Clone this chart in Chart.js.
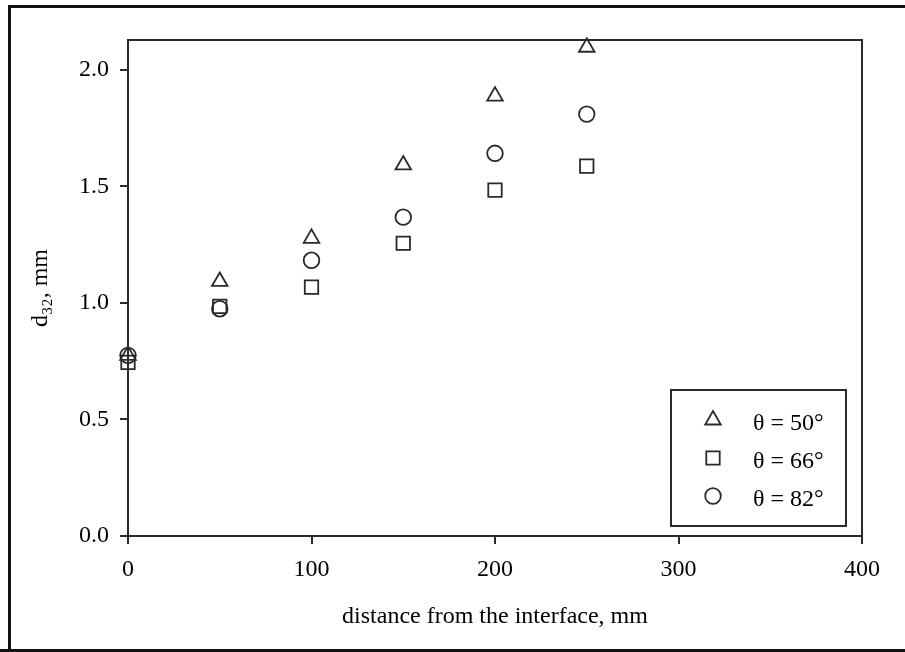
<!DOCTYPE html>
<html><head><meta charset="utf-8">
<script src="https://cdn.jsdelivr.net/npm/chart.js@4.4.0/dist/chart.umd.min.js"></script>
<style>html,body{margin:0;padding:0;background:#fff;} #c{display:block;}</style>
</head><body>
<canvas id="c" width="905" height="652"></canvas>
<script>
const distances = [0, 50, 100, 150, 200, 250];
const theta50 = [0.775, 1.092, 1.277, 1.592, 1.887, 2.097];
const theta66 = [0.745, 0.985, 1.068, 1.256, 1.484, 1.587];
const theta82 = [0.775, 0.975, 1.183, 1.368, 1.642, 1.81];
const seriesLabels = ['θ = 50°', 'θ = 66°', 'θ = 82°'];
const seriesStyles = ['triangle', 'rect', 'circle'];
const xTicks = [0, 100, 200, 300, 400];
const yTicks = [0.0, 0.5, 1.0, 1.5, 2.0];

const INK = '#2a2a2a';
const TXT = '#000';
const FONT = '"Liberation Serif", "Times New Roman", serif';
const FS = 24;

function pts(ys) { return distances.map((d, i) => ({x: d, y: ys[i]})); }
const radii = {triangle: 9, rect: 9.5, circle: 7.8};

function ds(label, ys, style) {
  return {
    label, data: pts(ys), pointStyle: style, pointRadius: radii[style], pointHoverRadius: radii[style],
    borderColor: INK, backgroundColor: 'rgba(0,0,0,0)', pointBorderWidth: 1.8, showLine: false, clip: false
  };
}

function drawSymbol(ctx, style, x, y, r) {
  ctx.beginPath();
  if (style === 'circle') {
    ctx.arc(x, y, r, 0, Math.PI * 2);
  } else if (style === 'rect') {
    const s = r / Math.SQRT2;
    ctx.rect(x - s, y - s, 2 * s, 2 * s);
  } else {
    for (let k = 0; k < 3; k++) {
      const a = k * 2 * Math.PI / 3;
      const px = x + Math.sin(a) * r, py = y - Math.cos(a) * r;
      if (k === 0) ctx.moveTo(px, py); else ctx.lineTo(px, py);
    }
    ctx.closePath();
  }
  ctx.stroke();
}

const framePlugin = {
  id: 'frame',
  afterDraw(chart) {
    const {ctx, chartArea: a} = chart;
    ctx.save();
    ctx.strokeStyle = INK; ctx.lineWidth = 2;
    ctx.strokeRect(a.left, a.top, a.right - a.left, a.bottom - a.top);
    // legend box
    const bx = 671, by = 390, bw = 175, bh = 136;
    ctx.fillStyle = '#fff';
    ctx.fillRect(bx, by, bw, bh);
    ctx.strokeRect(bx, by, bw, bh);
    const rows = [421, 459, 497];
    chart.data.datasets.forEach((d, i) => {
      ctx.lineWidth = 1.8; ctx.strokeStyle = INK;
      drawSymbol(ctx, d.pointStyle, 713, rows[i] - 1, radii[d.pointStyle]);
      ctx.fillStyle = TXT;
      ctx.font = FS + 'px ' + FONT;
      ctx.textBaseline = 'middle'; ctx.textAlign = 'left';
      ctx.fillText(d.label, 753, rows[i] + 3);
    });
    // outer border
    ctx.fillStyle = '#111';
    ctx.fillRect(8, 5, 3, 647);
    ctx.fillRect(8, 5, 897, 3);
    ctx.fillRect(0, 649, 905, 3);
    ctx.restore();
  }
};

new Chart(document.getElementById('c'), {
  type: 'scatter',
  data: {
    datasets: [
      ds(seriesLabels[0], theta50, seriesStyles[0]),
      ds(seriesLabels[1], theta66, seriesStyles[1]),
      ds(seriesLabels[2], theta82, seriesStyles[2])
    ]
  },
  options: {
    responsive: false, animation: false,
    layout: {padding: {left: 0, top: 40, right: 43, bottom: 0}},
    plugins: {legend: {display: false}, tooltip: {enabled: false}},
    scales: {
      x: {
        type: 'linear', min: 0, max: 400,
        afterBuildTicks(s) { s.ticks = xTicks.map(v => ({value: v})); },
        afterFit(s) { s.height = 116; },
        grid: {drawOnChartArea: false, drawTicks: true, tickLength: 8, color: INK, lineWidth: 2},
        border: {display: true, color: INK, width: 2},
        ticks: {color: TXT, font: {family: FONT, size: FS}, padding: 11, callback: v => String(v)},
        title: {display: true, text: 'distance from the interface, mm', color: TXT,
                font: {family: FONT, size: FS}, padding: {top: 0, bottom: 21}}
      },
      y: {
        type: 'linear', min: 0, max: 2.128,
        afterBuildTicks(s) { s.ticks = yTicks.map(v => ({value: v})); },
        afterFit(s) { s.width = 128; },
        grid: {drawOnChartArea: false, drawTicks: true, tickLength: 8, color: INK, lineWidth: 2},
        border: {display: true, color: INK, width: 2},
        ticks: {color: TXT, font: {family: FONT, size: FS}, padding: 11, callback: v => Number(v).toFixed(1)},
        title: {display: true, text: 'd₃₂, mm', color: TXT,
                font: {family: FONT, size: FS}, padding: {top: 26, bottom: 0}}
      }
    }
  },
  plugins: [framePlugin]
});
</script>
</body></html>
